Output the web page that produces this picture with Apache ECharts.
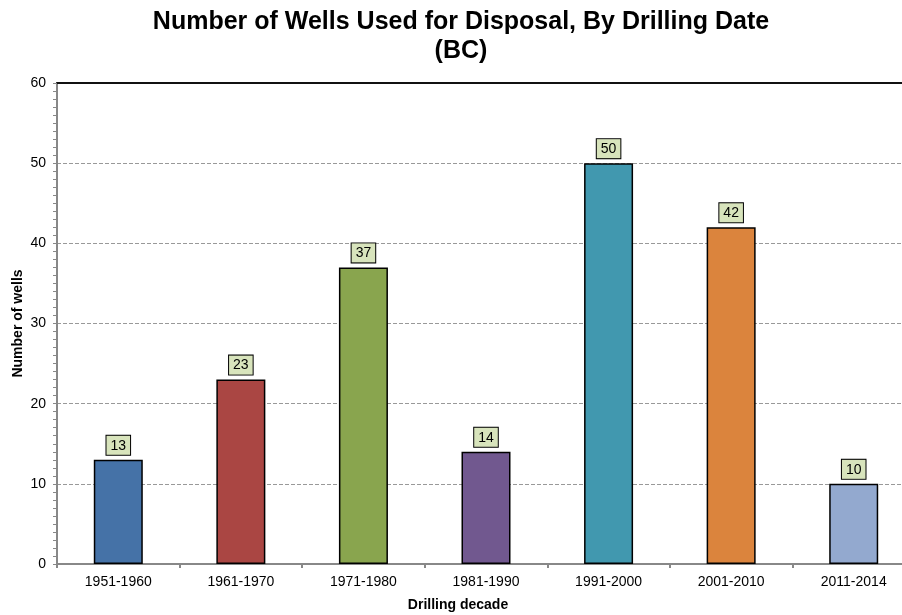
<!DOCTYPE html>
<html>
<head>
<meta charset="utf-8">
<script src="https://cdn.jsdelivr.net/npm/echarts@6/dist/echarts.min.js"></script>
<style>
  html, body { margin: 0; padding: 0; background: #ffffff; overflow: hidden; }
  /* The plot runs past the right edge of the window, so the canvas is a bit wider than the page */
  #chart { width: 920px; height: 615px; }
</style>
</head>
<body>
<div id="chart"></div>
<script>
// Wells used for disposal in BC, grouped by the decade they were drilled
const decades = ['1951-1960', '1961-1970', '1971-1980', '1981-1990', '1991-2000', '2001-2010', '2011-2014'];
const wellCounts = [13, 23, 37, 14, 50, 42, 10];
const barColors = ['#4572a7', '#aa4643', '#89a54e', '#71588f', '#4198af', '#db843d', '#93a9cf'];
const yTicks = [0, 10, 20, 30, 40, 50, 60];

const fontFamily = '"Liberation Sans", Arial, sans-serif';
const chart = echarts.init(document.getElementById('chart'), null, { renderer: 'canvas' });

chart.setOption({
  animation: false,
  backgroundColor: '#ffffff',
  textStyle: { fontFamily: fontFamily },
  title: [
    {
      text: 'Number of Wells Used for Disposal, By Drilling Date\n(BC)',
      left: 456,
      top: 3,
      textAlign: 'center',
      textStyle: { fontFamily: fontFamily, fontSize: 25, fontWeight: 'bold', color: '#000', lineHeight: 29 }
    },
    {
      text: 'Drilling decade',
      left: 453,
      top: 593,
      textAlign: 'center',
      textStyle: { fontFamily: fontFamily, fontSize: 14, fontWeight: 'bold', color: '#000' }
    }
  ],
  grid: { left: 57, top: 83, width: 858, height: 481, containLabel: false, outerBoundsMode: 'none' },
  xAxis: [
    {
      type: 'category',
      data: decades,
      position: 'bottom',
      axisLine: { lineStyle: { color: '#888888', width: 2 } },
      axisTick: { show: true, alignWithLabel: false, length: 4, lineStyle: { color: '#888888', width: 2 } },
      axisLabel: { color: '#000', fontSize: 14, margin: 11, fontFamily: fontFamily }
    },
    {
      type: 'category',
      data: decades,
      position: 'top',
      axisLine: { lineStyle: { color: '#111111', width: 2 } },
      axisTick: { show: false },
      axisLabel: { show: false }
    }
  ],
  yAxis: {
    type: 'value',
    min: yTicks[0],
    max: yTicks[yTicks.length - 1],
    interval: 10,
    name: 'Number of wells',
    nameLocation: 'middle',
    nameGap: 32,
    nameMoveOverlap: false,
    nameTextStyle: { fontFamily: fontFamily, fontSize: 14, fontWeight: 'bold', color: '#000' },
    axisLine: { show: true, lineStyle: { color: '#888888', width: 2 } },
    axisTick: { show: true, length: 4, lineStyle: { color: '#888888', width: 1 } },
    minorTick: { show: true, splitNumber: 10, length: 4, lineStyle: { color: '#888888', width: 1 } },
    axisLabel: { color: '#000', fontSize: 14, margin: 11, fontFamily: fontFamily },
    splitLine: { show: true, lineStyle: { color: '#999999', type: [4, 2], width: 1 } }
  },
  series: [
    {
      type: 'bar',
      xAxisIndex: 0,
      barWidth: 49,
      data: wellCounts.map((v, i) => ({
        value: v,
        itemStyle: { color: barColors[i], borderColor: '#000', borderWidth: 1.5 }
      })),
      label: {
        show: true,
        position: 'top',
        distance: 5,
        color: '#000',
        fontSize: 14,
        fontFamily: fontFamily,
        backgroundColor: '#d8e4bc',
        borderColor: '#000',
        borderWidth: 1,
        padding: [3, 4, 2, 4]
      }
    }
  ]
});
</script>
</body>
</html>
